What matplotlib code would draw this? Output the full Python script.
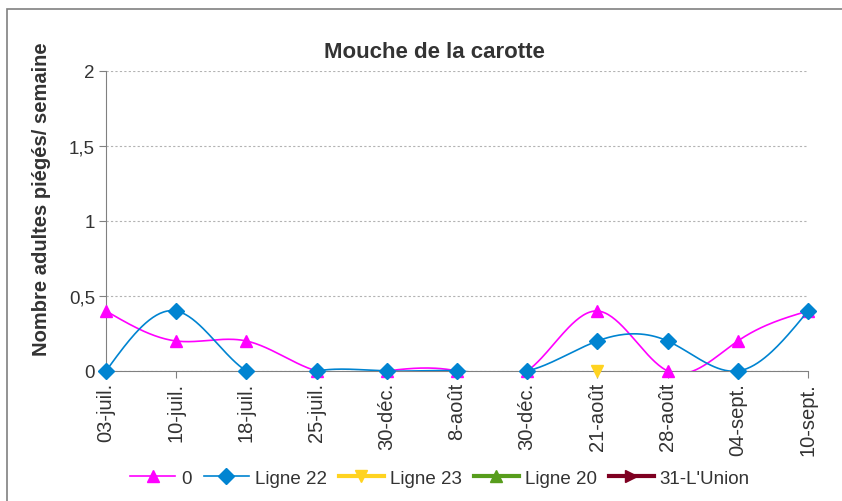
import numpy as np
import matplotlib.pyplot as plt
from matplotlib.lines import Line2D
from matplotlib.patches import Rectangle

plt.rcParams['font.family'] = ['Liberation Sans', 'DejaVu Sans']

# data
dates = ["03-juil.", "10-juil.", "18-juil.", "25-juil.", "30-déc.", "8-août",
         "30-déc.", "21-août", "28-août", "04-sept.", "10-sept."]
serie_0 = [0.4, 0.2, 0.2, 0, 0, 0, 0, 0.4, 0, 0.2, 0.4]
ligne_22 = [0, 0.4, 0, 0, 0, 0, 0, 0.2, 0.2, 0, 0.4]
ligne_23 = [None, None, None, None, None, None, None, 0, None, None, None]
ligne_20 = [None] * 11
union_31 = [None] * 11

names = ["0", "Ligne 22", "Ligne 23", "Ligne 20", "31-L'Union"]
colors = ["#ff00ff", "#0084d1", "#ffd320", "#579d1c", "#7e0021"]
markers = ["^", "D", "v", "^", ">"]
widths = [1.2, 1.2, 3, 3, 3]


def spline(x, y, n=40):
    """natural cubic spline through the points (like the spreadsheet smoothing)"""
    x = np.asarray(x, float); y = np.asarray(y, float)
    m = len(x)
    h = np.diff(x)
    A = np.zeros((m, m)); b = np.zeros(m)
    A[0, 0] = 1; A[-1, -1] = 1
    for i in range(1, m-1):
        A[i, i-1] = h[i-1]; A[i, i] = 2*(h[i-1]+h[i]); A[i, i+1] = h[i]
        b[i] = 6*((y[i+1]-y[i])/h[i] - (y[i]-y[i-1])/h[i-1])
    M = np.linalg.solve(A, b)
    xs, ys = [], []
    for i in range(m-1):
        t = np.linspace(x[i], x[i+1], n)
        a = x[i+1]-t; c = t-x[i]
        s = (M[i]*a**3 + M[i+1]*c**3)/(6*h[i]) + (y[i]/h[i] - M[i]*h[i]/6)*a \
            + (y[i+1]/h[i] - M[i+1]*h[i]/6)*c
        xs.append(t); ys.append(s)
    return np.concatenate(xs), np.concatenate(ys)


fig = plt.figure(figsize=(8.42, 5.02), dpi=100)
fig.patches.append(Rectangle((7/842, -0.1), 1.2, (502-10)/502 + 0.1, transform=fig.transFigure,
                             fill=False, edgecolor="#808080", linewidth=1.2))
ax = fig.add_axes([106/842, 130/502, 702/842, 300/502])

x = np.arange(len(dates))
series = [serie_0, ligne_22, ligne_23, ligne_20, union_31]
for k, vals in enumerate(series):
    pts = [(xi, v) for xi, v in zip(x, vals) if v is not None]
    if len(pts) > 2:
        sx, sy = spline([p[0] for p in pts], [p[1] for p in pts])
        ax.plot(sx, sy, color=colors[k], lw=widths[k], zorder=3+k)
    if pts:
        ax.plot([p[0] for p in pts], [p[1] for p in pts], ls="none", marker=markers[k],
                color=colors[k], ms=8.5, clip_on=False, zorder=3+k)

ax.set_xlim(0, 10)
ax.set_ylim(0, 2)
ax.set_yticks([0, 0.5, 1, 1.5, 2])
ax.set_yticklabels(["0", "0,5", "1", "1,5", "2"])
ax.set_xticks(x)
ax.set_xticklabels(dates, rotation=90)
ax.tick_params(colors="#808080", labelcolor="#333333", labelsize=13.5, length=5, pad=3)
ax.tick_params(axis="x", labelsize=14.5)
ax.yaxis.grid(True, ls=(0, (2, 2)), color="#b3b3b3", lw=0.8)
for s in ["top", "right"]:
    ax.spines[s].set_visible(False)
ax.spines["left"].set_color("#808080")
ax.spines["bottom"].set_color("#808080")
ax.spines["bottom"].set_zorder(2.5)

fig.text(434/842, 1 - 52/502, "Mouche de la carotte", ha="center", va="center",
         fontsize=16, fontweight="bold", color="#333333")
fig.text(42/842, 1 - 199/502, "Nombre adultes piégés/ semaine", ha="center", va="center",
         rotation=90, fontsize=14.5, fontweight="bold", color="#333333")

handles = [Line2D([], [], color=colors[k], lw=widths[k], marker=markers[k], ms=8.5)
           for k in range(5)]
fig.legend(handles, names, loc="center", bbox_to_anchor=(440/842, 1 - 479/502), ncol=5,
           frameon=False, fontsize=13.5, handlelength=2.4, handletextpad=0.32,
           columnspacing=0.64, labelcolor="#333333")

fig.savefig("out.png", dpi=100)
